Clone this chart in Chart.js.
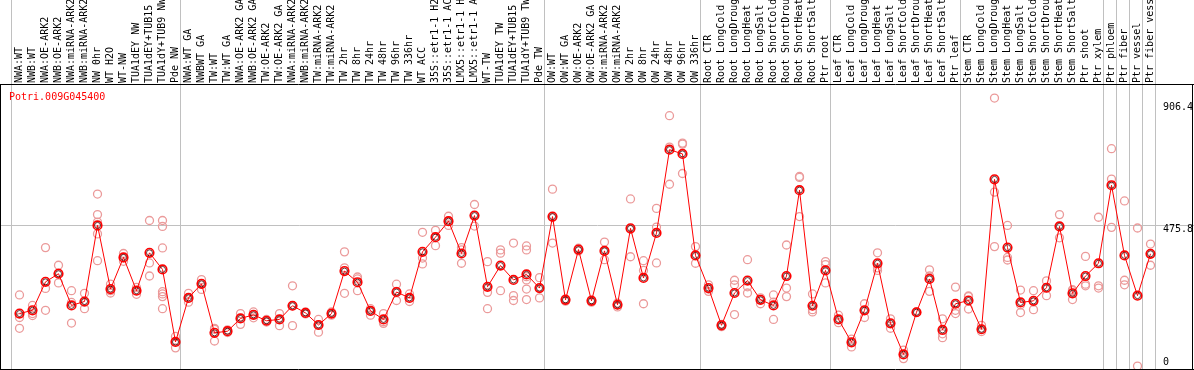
<!DOCTYPE html>
<html>
<head>
<meta charset="utf-8">
<script src="https://cdn.jsdelivr.net/npm/chart.js@4"></script>
<style>
  html, body { margin: 0; padding: 0; background: #fff; }
  canvas { display: block; }
</style>
</head>
<body>
<canvas id="exprChart" width="1194" height="370"></canvas>
<script>
const geneName = 'Potri.009G045400';

const categories = [
  'NWA:WT', 'NWB:WT', 'NWA:OE-ARK2', 'NWB:OE-ARK2', 'NWA:miRNA-ARK2', 'NWB:miRNA-ARK2',
  'NW 0hr', 'WT H2O', 'WT-NW', 'TUA1dEY NW', 'TUA1dEY+TUB15 NW', 'TUA1dY+TUB9 NW', 'Pde NW',
  'NWA:WT GA', 'NWBWT GA', 'TW:WT', 'TW:WT GA', 'NWA:OE-ARK2 GA', 'NWB:OE-ARK2 GA',
  'TW:OE-ARK2', 'TW:OE-ARK2 GA', 'NWA:miRNA-ARK2 GA', 'NWB:miRNA-ARK2 GA', 'TW:miRNA-ARK2',
  'TW:miRNA-ARK2 GA', 'TW 2hr', 'TW 8hr', 'TW 24hr', 'TW 48hr', 'TW 96hr', 'TW 336hr',
  'WT ACC', '35S::etr1-1 H2O', '35S::etr1-1 ACC', 'LMX5::etr1-1 H2O', 'LMX5::etr1-1 ACC',
  'WT-TW', 'TUA1dEY TW', 'TUA1dEY+TUB15 TW', 'TUA1dY+TUB9 TW', 'Pde TW',
  'OW:WT', 'OW:WT GA', 'OW:OE-ARK2', 'OW:OE-ARK2 GA', 'OW:miRNA-ARK2', 'OW:miRNA-ARK2 GA',
  'OW 2hr', 'OW 8hr', 'OW 24hr', 'OW 48hr', 'OW 96hr', 'OW 336hr',
  'Root CTR', 'Root LongCold', 'Root LongDrought', 'Root LongHeat', 'Root LongSalt',
  'Root ShortCold', 'Root ShortDrought', 'Root ShortHeat', 'Root ShortSalt', 'Ptr root',
  'Leaf CTR', 'Leaf LongCold', 'Leaf LongDrought', 'Leaf LongHeat', 'Leaf LongSalt',
  'Leaf ShortCold', 'Leaf ShortDrought', 'Leaf ShortHeat', 'Leaf ShortSalt', 'Ptr leaf',
  'Stem CTR', 'Stem LongCold', 'Stem LongDrought', 'Stem LongHeat', 'Stem LongSalt',
  'Stem ShortCold', 'Stem ShortDrought', 'Stem ShortHeat', 'Stem ShortSalt', 'Ptr shoot',
  'Ptr xylem', 'Ptr phloem', 'Ptr fiber', 'Ptr vessel', 'Ptr fiber vessel'
];

// mean expression per sample
const meanValues = [
  177.7, 188.7, 284.8, 312.3, 205.2, 218.5, 475.7, 260.5, 367.5, 254.9, 383.0, 326.9, 81.6,
  230.6, 278.1, 112.5, 118.0, 161.1, 173.3, 153.3, 157.8, 204.1, 179.9, 139.0, 177.7,
  321.2, 283.6, 186.5, 157.8, 250.5, 230.6, 386.3, 436.0, 490.1, 380.8, 508.9,
  268.2, 340.0, 291.4, 310.1, 263.8,
  505.6, 224.0, 394.0, 220.7, 389.6, 207.4, 465.8, 298.0, 450.3, 731.9, 717.5, 374.2,
  263.8, 137.9, 247.2, 289.2, 224.0, 205.2, 304.6, 595.0, 204.1, 323.4,
  157.8, 80.5, 188.7, 347.7, 144.5, 39.6, 182.1, 294.7, 122.4, 210.8,
  221.8, 124.6, 631.4, 400.7, 215.2, 220.7, 264.9, 472.4, 246.1, 304.6,
  347.7, 611.6, 374.2, 238.3, 379.7
];

// individual replicates per sample
const replicates = [
  [240.6, 164.4, 127.9], [205.2, 177.7, 171.0], [400.7, 262.7, 188.7], [341.0, 314.5, 281.4],
  [254.9, 215.2, 145.6], [246.1, 215.2, 194.2], [581.7, 512.2, 486.8, 447.0, 356.5],
  [277.0, 254.9, 247.2], [380.8, 365.3, 354.3], [266.0, 254.9, 242.8], [492.3, 348.8, 304.6],
  [492.3, 472.4, 399.6, 251.6, 243.9, 235.0, 194.2], [100.3, 81.6, 61.7],
  [246.1, 230.6, 216.3], [292.5, 278.1, 259.3], [127.9, 124.6, 84.9], [122.4, 118.0, 113.6],
  [177.7, 161.1, 141.2], [183.2, 173.3, 163.3], [157.8, 148.9, 153.3], [177.7, 157.8, 136.8],
  [271.5, 204.1, 136.8], [183.2, 179.9, 176.6], [157.8, 139.0, 114.7], [183.2, 177.7, 172.2],
  [386.3, 332.2, 246.1], [301.3, 294.7, 254.9], [194.2, 186.5, 172.2], [177.7, 150.0, 144.5],
  [277.0, 252.7, 221.8], [243.9, 230.6, 218.5], [452.5, 365.3, 345.5], [459.2, 436.0, 407.3],
  [506.7, 490.1, 475.8], [400.7, 393.0, 347.7], [546.4, 508.9, 473.5],
  [353.2, 249.4, 194.2], [392.9, 381.9, 255.0], [416.1, 238.3, 221.8],
  [406.2, 393.0, 302.4, 291.4, 260.5, 225.1], [299.1, 263.8, 230.6],
  [598.3, 502.3, 416.1], [227.3, 221.8, 219.6], [398.5, 389.6], [224.0, 220.7, 216.3],
  [419.4, 389.6, 359.8], [213.0, 207.4, 200.0], [565.2, 462.5, 369.8], [356.5, 323.4, 210.8],
  [533.2, 470.2, 348.8], [846.7, 740.7, 614.9], [754.0, 750.7, 651.3], [404.0, 374.2, 347.7],
  [274.8, 260.5, 252.7], [141.2, 137.9, 133.5], [290.3, 274.8, 174.3], [359.8, 268.2, 247.2],
  [230.6, 224.0, 210.8], [240.6, 216.3, 157.8], [409.5, 263.8, 235.0], [641.3, 638.0, 505.6],
  [243.9, 190.9, 183.2], [353.2, 343.3, 281.4],
  [172.2, 157.8, 146.7], [91.5, 80.5, 65.0], [210.8, 188.7, 164.4], [383.0, 332.2, 323.4],
  [160.0, 144.5, 128.0], [54.0, 39.6, 25.3], [182.1, 182.1, 182.1], [325.6, 304.6, 252.7],
  [160.0, 109.2, 96.0], [267.1, 188.7, 177.7],
  [237.2, 235.0, 193.1], [137.9, 124.6, 116.9], [906.4, 588.4, 404.0], [475.7, 367.5, 358.7],
  [257.1, 207.4, 181.0], [254.9, 217.4, 190.9], [288.1, 264.9, 238.3], [512.2, 472.4, 433.8],
  [258.2, 254.9, 225.1], [370.9, 277.0, 271.5],
  [503.4, 271.5, 263.8], [735.2, 632.5, 469.1], [558.5, 290.3, 274.8], [466.9, 0],
  [412.7, 379.7, 341.0]
];

// right-hand value labels and the sample after which a group separator falls
const valueTicks = [0, 475.8, 906.4];
const groupBreaks = [0, 13, 41, 53, 63, 73, 84, 85, 86, 87, 88];

const meanPoints = meanValues.map((v, i) => ({ x: i + 1, y: v }));
const repPoints = [];
replicates.forEach((reps, i) => reps.forEach(v => repPoints.push({ x: i + 1, y: v })));

const monoFont = '10px "DejaVu Sans Mono", monospace';

const decorPlugin = {
  id: 'decor',
  beforeDatasetsDraw(chart) {
    const { ctx, chartArea, scales } = chart;
    ctx.save();
    ctx.strokeStyle = '#c0c0c0';
    ctx.lineWidth = 1;
    groupBreaks.forEach(b => {
      const x = Math.round(scales.x.getPixelForValue(b + 0.35)) + 0.5;
      ctx.beginPath();
      ctx.moveTo(x, 0);
      ctx.lineTo(x, chartArea.bottom);
      ctx.stroke();
    });
    const gy = Math.round(scales.y.getPixelForValue(valueTicks[1])) + 0.5;
    ctx.beginPath();
    ctx.moveTo(chartArea.left, gy);
    ctx.lineTo(chart.width, gy);
    ctx.stroke();
    ctx.restore();
  },
  afterDraw(chart) {
    const { ctx, chartArea, scales } = chart;
    ctx.save();
    ctx.strokeStyle = '#000';
    ctx.lineWidth = 1;
    ctx.beginPath();
    ctx.moveTo(0, chartArea.top - 0.5);
    ctx.lineTo(chart.width, chartArea.top - 0.5);
    ctx.moveTo(0, chartArea.bottom + 0.5);
    ctx.lineTo(chart.width, chartArea.bottom + 0.5);
    ctx.moveTo(chartArea.left - 0.5, chartArea.top);
    ctx.lineTo(chartArea.left - 0.5, chartArea.bottom);
    ctx.moveTo(chartArea.right + 0.5, chartArea.top);
    ctx.lineTo(chartArea.right + 0.5, chartArea.bottom);
    ctx.stroke();

    ctx.font = monoFont;
    ctx.textBaseline = 'top';
    ctx.textAlign = 'left';
    ctx.fillStyle = '#ff0000';
    ctx.fillText(geneName, chartArea.left + 8, chartArea.top + 7);

    ctx.fillStyle = '#000';
    valueTicks.forEach(v => {
      let y = scales.y.getPixelForValue(v) - 1;
      y = Math.max(chartArea.top + 17, Math.min(chartArea.bottom - 12, y));
      ctx.fillText(String(v), chartArea.right - 29, y);
    });
    ctx.restore();
  }
};

const ctx = document.getElementById('exprChart').getContext('2d');
const exprChart = new Chart(ctx, {
  type: 'line',
  data: {
    datasets: [
      {
        label: 'replicates',
        data: repPoints,
        showLine: false,
        pointRadius: 4,
        pointBorderWidth: 1.3,
        pointBorderColor: '#eb9a9a',
        pointBackgroundColor: 'rgba(0,0,0,0)',
        order: 3
      },
      {
        label: geneName,
        data: meanPoints,
        borderColor: '#ff0000',
        borderWidth: 1,
        tension: 0,
        pointRadius: 4.3,
        pointBorderWidth: 1.6,
        pointBorderColor: '#ff0000',
        pointBackgroundColor: 'rgba(0,0,0,0)',
        order: 2
      },
      {
        label: 'inner',
        data: meanPoints,
        showLine: false,
        pointRadius: 3,
        pointBorderWidth: 0.8,
        pointBorderColor: '#400000',
        pointBackgroundColor: 'rgba(0,0,0,0)',
        order: 1
      }
    ]
  },
  options: {
    responsive: false,
    animation: false,
    events: [],
    layout: { autoPadding: false, padding: { left: 1, right: 2, top: 0, bottom: 1 } },
    plugins: {
      legend: { display: false },
      tooltip: { enabled: false }
    },
    scales: {
      x: {
        type: 'linear',
        position: 'top',
        min: 1 - 18.5 / 13,
        max: 1 - 18.5 / 13 + 1191 / 13,
        afterBuildTicks: scale => {
          scale.ticks = categories.map((c, i) => ({ value: i + 1 }));
        },
        afterFit: scale => {
          scale.height = 85;
          scale.paddingLeft = 0;
          scale.paddingRight = 0;
        },
        grid: { display: false, drawTicks: false },
        border: { display: false },
        ticks: {
          autoSkip: false,
          minRotation: 90,
          maxRotation: 90,
          padding: 2,
          labelOffset: 12,
          color: '#000',
          font: { family: '"DejaVu Sans Mono", monospace', size: 10 },
          callback: v => categories[v - 1]
        }
      },
      y: {
        display: false,
        min: -9.8,
        max: 950.5
      }
    }
  },
  plugins: [decorPlugin]
});
</script>
</body>
</html>
